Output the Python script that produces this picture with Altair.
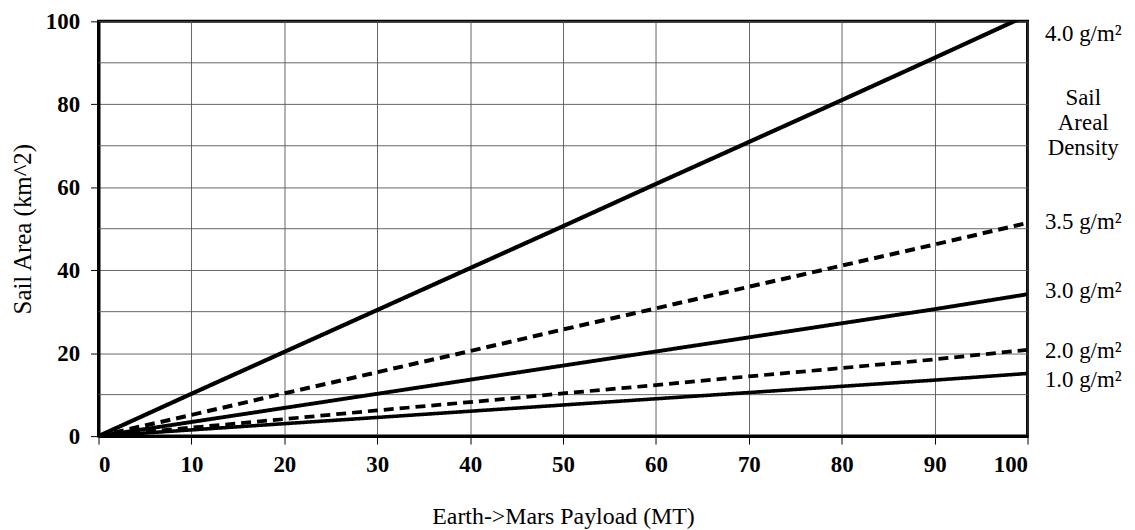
import altair as alt
import pandas as pd

payload = [0, 10, 20, 30, 40, 50, 60, 70, 80, 90, 100]
d40 = [0, 10.2, 20.3, 30.4, 40.5, 50.6, 60.8, 70.9, 81.0, 91.2, 101.5]
d35 = [0, 5.1, 10.3, 15.4, 20.5, 25.7, 30.8, 36.0, 41.1, 46.2, 51.4]
d30 = [0, 3.4, 6.8, 10.2, 13.6, 17.0, 20.4, 23.8, 27.2, 30.6, 34.2]
d20 = [0, 2.05, 4.1, 6.2, 8.2, 10.3, 12.3, 14.4, 16.4, 18.5, 20.8]
d10 = [0, 1.5, 3.0, 4.5, 6.0, 7.5, 9.0, 10.5, 12.0, 13.5, 15.1]

series_names = ["4.0", "3.5", "3.0", "2.0", "1.0"]
series_vals = [d40, d35, d30, d20, d10]
series_dash = ["solid", "dash", "solid", "dash", "solid"]

label_texts = ["4.0 g/m²", "Sail", "Areal", "Density", "3.5 g/m²", "3.0 g/m²", "2.0 g/m²", "1.0 g/m²"]
label_y = [97, 81.5, 75.5, 69.5, 51.6, 35.0, 20.4, 13.4]

minor_y = [10, 30, 50, 70, 90]

rows = []
for name, vals, dash in zip(series_names, series_vals, series_dash):
    for x, y in zip(payload, vals):
        rows.append({"payload": x, "area": y, "series": name, "style": dash})
df = pd.DataFrame(rows)

FONT = "Liberation Serif"
W, H = 934, 417

xs = alt.Scale(domain=[0, 100], nice=False)
ys = alt.Scale(domain=[0, 100], nice=False)

base = alt.Chart(df)

minor = alt.Chart(pd.DataFrame({"y": minor_y})).mark_rule(
    color="#555555", strokeWidth=0.9
).encode(y=alt.Y("y:Q", scale=ys))

lines = base.mark_line(color="black", clip=True, strokeCap="butt").encode(
    x=alt.X("payload:Q", scale=xs,
            axis=alt.Axis(values=payload, title="Earth->Mars Payload (MT)",
                          titlePadding=28, titleFontSize=24, labelPadding=10)),
    y=alt.Y("area:Q", scale=ys,
            axis=alt.Axis(values=[0, 20, 40, 60, 80, 100], title="Sail Area (km^2)",
                          titlePadding=10, titleFontSize=25, labelPadding=11)),
    detail="series:N",
    strokeDash=alt.StrokeDash("style:N",
                              scale=alt.Scale(domain=["solid", "dash"], range=[[1, 0], [10, 6]]),
                              legend=None),
    strokeWidth=alt.StrokeWidth("series:N",
                                scale=alt.Scale(domain=series_names, range=[4.2, 3.6, 3.6, 3.6, 3.4]),
                                legend=None),
)

labels = alt.Chart(pd.DataFrame({"t": label_texts, "y": label_y})).mark_text(
    font=FONT, fontSize=23, align="center", baseline="middle", color="black"
).encode(
    x=alt.value(W + 56),
    y=alt.Y("y:Q", scale=ys),
    text="t:N",
)

chart = alt.layer(minor, lines, labels).properties(
    width=W, height=H,
    autosize=alt.AutoSizeParams(type="none"),
    padding={"left": 91, "top": 12, "right": 100, "bottom": 93},
).configure_view(
    stroke="black", strokeWidth=3
).configure_axis(
    labelFont=FONT, titleFont=FONT, labelFontSize=23, labelFontWeight="bold",
    labelColor="black", titleColor="black", titleFontWeight="normal",
    domainColor="black", domainWidth=3, tickColor="black", tickSize=8,
    tickWidth=1, gridColor="#555555", gridWidth=0.9, gridOpacity=1,
).configure_axisX(labelAngle=0)

chart.save("out.html", embed_options={"renderer": "svg", "actions": False})
